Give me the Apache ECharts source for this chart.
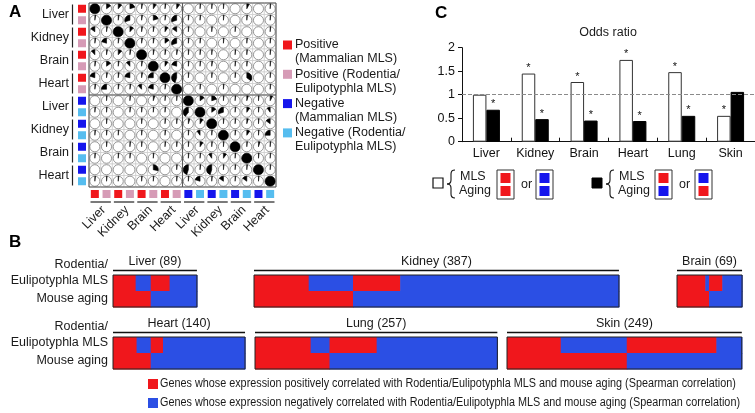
<!DOCTYPE html>
<html><head><meta charset="utf-8">
<script src="https://cdn.jsdelivr.net/npm/echarts@6/dist/echarts.min.js"></script>
<style>html,body{margin:0;padding:0;background:#fff}#c{width:755px;height:413px}</style>
</head><body><div id="c"></div>
<script>
// ---------- Panel A data ----------
const aTissues = ['Liver','Kidney','Brain','Heart','Liver','Kidney','Brain','Heart'];
const aRowTypes = ['PM','PR','PM','PR','PM','PR','PM','PR','NM','NR','NM','NR','NM','NR','NM','NR'];
const aMatrix = [
  [1, .15, .12, .2, .03, .1, .03, .1,   0, .02, .02, .02, 0, .08, 0, .02],
  [.03, 1, .03, -.3, .03, .2, .03, -.3,  .02, .02, 0, .02, 0, .02, 0, .02],
  [-.15, .03, 1, .12, .03, .03, .1, -.15,  .02, 0, .02, 0, .02, 0, 0, .02],
  [.03, -.2, .03, 1, .03, .03, .15, -.3,  .02, .02, 0, .02, 0, .02, 0, .02],
  [-.12, .03, .12, .03, 1, .03, .03, .03,  .02, .02, .02, 0, .02, .02, 0, .02],
  [.03, .15, .03, -.12, .03, 1, .1, -.2,  .02, .02, .03, 0, .02, .02, 0, .02],
  [-.2, .03, .03, -.22, .03, -.25, 1, -.45,  .02, 0, .02, 0, .02, .35, 0, .02],
  [.03, -.25, .03, .03, -.12, -.2, .03, 1,  0, .02, 0, .02, 0, 0, 0, .02],
  [0, .02, 0, .02, 0, .05, .02, .02,  1, .15, .2, .02, .02, .05, .02, .08],
  [.02, .02, 0, .02, .02, .02, .02, 0,  -.4, 1, .15, -.3, .02, .1, .02, -.1],
  [0, .02, 0, 0, .02, 0, .02, .02,  .05, .1, 1, .02, .02, .05, .02, -.15],
  [.02, .02, .02, 0, .02, 0, .02, 0,  .02, -.1, .02, 1, .02, .1, .02, -.25],
  [0, .02, 0, .02, .02, 0, .02, .02,  .02, .1, .02, .02, 1, .02, .05, .02],
  [.02, 0, .02, .02, 0, .02, 0, 0,  .02, .02, -.1, .1, .02, 1, .02, .02],
  [0, 0, 0, 0, 0, .28, 0, .02,  -.45, .02, -.45, .02, .02, .02, 1, .02],
  [.02, .02, .02, 0, .02, .02, 0, .02,  .02, -.2, .02, -.15, .02, -.15, .02, 1]
];
const aLegend = [
  ['PM', 'Positive\n(Mammalian MLS)'],
  ['PR', 'Positive (Rodentia/\nEulipotyphla MLS)'],
  ['NM', 'Negative\n(Mammalian MLS)'],
  ['NR', 'Negative (Rodentia/\nEulipotyphla MLS)']
];

// ---------- Panel B data ----------
const bTissues = ['Liver','Kidney','Brain','Heart','Lung','Skin'];
const bTotals  = [89, 387, 69, 140, 257, 249];
const bPosPos  = [24, 58, 30, 25, 59, 57];   // MLS +, aging +
const bNegPos  = [16, 47, 4, 15, 20, 70];    // MLS -, aging +
const bPosNeg  = [20, 50, 14, 13, 50, 95];   // MLS +, aging -
const bNegNeg  = [29, 232, 21, 87, 128, 27]; // MLS -, aging -
const bLegend = [
  'Genes whose expression positively correlated with Rodentia/Eulipotyphla MLS and mouse aging (Spearman correlation)',
  'Genes whose expression negatively correlated with Rodentia/Eulipotyphla MLS and mouse aging (Spearman correlation)'
];

// ---------- Panel C data ----------
const cCategories = ['Liver','Kidney','Brain','Heart','Lung','Skin'];
const cConcordant = [1.0, 1.45, 1.27, 1.74, 1.48, 0.55];
const cDiscordant = [0.68, 0.48, 0.45, 0.44, 0.55, 1.06];
const cConcordantSig = [false, true, true, true, true, true];
const cDiscordantSig = [true, true, true, true, true, false];

// ---------- styles / layout ----------
const FONT = 'Liberation Sans, Arial, sans-serif';
const RED = '#f0171c', BLUE = '#2b4fe4', PINK = '#d69bb6', LBLUE = '#56bdef', DBLUE = '#1515ec';
const typeColor = {PM: RED, PR: PINK, NM: DBLUE, NR: LBLUE};

const A = {left: 89, top: 3, width: 187, height: 184};
const cw = A.width / 16, ch = A.height / 16;

const C = {left: 462, top: 47.7, width: 293, height: 94};

const pxPerGene = 0.943;
const bLeft = [113, 254, 677, 113, 255, 507];
const bTop  = [275, 275, 275, 337, 337, 337];
const bH = 32;

// horizontally condense the long legend lines to the target width
const legendTargetW = 580, legendFont = 12.5;
const mctx = document.createElement('canvas').getContext('2d');
mctx.font = legendFont + 'px ' + FONT;
const legendScaleX = Math.min(1, legendTargetW / mctx.measureText(bLegend[1]).width);

function txt(x, y, s, o) {
  o = o || {};
  const al = o.align || 'left', va = o.va || 'middle';
  return {type: 'text', x: x, y: y, rotation: o.rot || 0, scaleX: o.sx || 1, silent: true, z: 100,
    style: {text: s, x: 0, y: 0, fill: o.color || '#1a1a1a', fontSize: o.size || 12.5,
      fontFamily: o.family || FONT, fontWeight: o.weight || 'normal',
      align: al, textAlign: al, verticalAlign: va, textVerticalAlign: va,
      lineHeight: o.lh || undefined}};
}
function rect(x, y, w, h, fill, stroke, lw) {
  return {type: 'rect', silent: true, z: 100, shape: {x: x, y: y, width: w, height: h},
    style: {fill: fill || 'none', stroke: stroke || null, lineWidth: lw || 0}};
}
function line(x1, y1, x2, y2, color, lw) {
  return {type: 'line', silent: true, z: 100, shape: {x1: x1, y1: y1, x2: x2, y2: y2},
    style: {stroke: color || '#000', lineWidth: lw || 1}};
}
function curve(x1, y1, cx, cy, x2, y2) {
  return {type: 'bezierCurve', silent: true, z: 100,
    shape: {x1: x1, y1: y1, cpx1: cx, cpy1: cy, x2: x2, y2: y2},
    style: {fill: 'none', stroke: '#111', lineWidth: 1.1}};
}
function brace(x, y) {
  return {type: 'group', x: x, y: y, silent: true, children: [
    curve(8, 0, 4, 0, 4, 4),
    line(4, 4, 4, 10, '#111', 1.1),
    curve(4, 10, 4, 14, 0, 14),
    curve(0, 14, 4, 14, 4, 18),
    line(4, 18, 4, 24, '#111', 1.1),
    curve(4, 24, 4, 28, 8, 28)
  ]};
}

const graphics = [];
// panel letters
graphics.push(txt(9, 12, 'A', {size: 17, weight: 'bold', color: '#000'}));
graphics.push(txt(9, 242, 'B', {size: 17, weight: 'bold', color: '#000'}));
graphics.push(txt(435, 13, 'C', {size: 17, weight: 'bold', color: '#000'}));

// Panel A: row labels, brackets, colour squares
aTissues.forEach(function (t, k) {
  const y0 = A.top + 2 * k * ch, y1 = y0 + 2 * ch;
  graphics.push(txt(69, (y0 + y1) / 2, t, {align: 'right'}));
  graphics.push(line(72.5, y0 + 1.5, 72.5, y1 - 1.5, '#222', 1.2));
  const x0 = A.left + 2 * k * cw, x1 = x0 + 2 * cw;
  graphics.push(line(x0 + 1.5, 202, x1 - 1.5, 202, '#222', 1.2));
  graphics.push(txt((x0 + x1) / 2 + 3, 208, t, {align: 'right', rot: Math.PI / 4}));
});
aRowTypes.forEach(function (tp, i) {
  const cy = A.top + (i + 0.5) * ch;
  graphics.push(rect(78, cy - 4, 8, 8, typeColor[tp]));
  const cx = A.left + (i + 0.5) * cw;
  graphics.push(rect(cx - 4, 190, 8, 8, typeColor[tp]));
});
// Panel A legend
aLegend.forEach(function (lg, k) {
  const y = 45 + k * 29.3;
  graphics.push(rect(283, y - 4.5, 9, 9, typeColor[lg[0]]));
  graphics.push(txt(295, y - 7, lg[1], {va: 'top', lh: 14}));
});

// Panel C title and legend
graphics.push(txt(608, 33, 'Odds ratio', {align: 'center'}));
graphics.push(rect(433, 178, 10, 10, '#fff', '#111', 1.2));
graphics.push(brace(447, 170));
graphics.push(txt(460, 177, 'MLS'));
graphics.push(txt(459, 191, 'Aging'));
function pairBox(x, c1, c2) {
  graphics.push(rect(x, 170, 17, 29, 'none', '#333', 1));
  graphics.push(rect(x + 3.5, 173, 10, 10, c1));
  graphics.push(rect(x + 3.5, 186, 10, 10, c2));
}
pairBox(497, RED, RED);
graphics.push(txt(521, 185, 'or'));
pairBox(536, DBLUE, DBLUE);
graphics.push(rect(592, 178, 10, 10, '#000', '#000', 1));
graphics.push(brace(606, 170));
graphics.push(txt(619, 177, 'MLS'));
graphics.push(txt(618, 191, 'Aging'));
pairBox(655, RED, DBLUE);
graphics.push(txt(679, 185, 'or'));
pairBox(695, DBLUE, RED);

// Panel B labels, headers, frames
[275, 337].forEach(function (top) {
  graphics.push(txt(108, top - 2, 'Rodentia/\nEulipotyphla MLS', {align: 'right', lh: 16}));
  graphics.push(txt(108, top + 24, 'Mouse aging', {align: 'right'}));
});
bTissues.forEach(function (t, k) {
  const w = bTotals[k] * pxPerGene;
  graphics.push(line(bLeft[k], bTop[k] - 4.5, bLeft[k] + w, bTop[k] - 4.5, '#111', 1.4));
  graphics.push(txt(bLeft[k] + w / 2, bTop[k] - 13, t + ' (' + bTotals[k] + ')', {align: 'center'}));
  graphics.push(rect(bLeft[k], bTop[k], w, bH, 'none', '#222', 1));
});
// Panel B legend
bLegend.forEach(function (s, k) {
  const y = 384 + k * 19;
  graphics.push(rect(148, y - 5, 10, 10, k === 0 ? RED : BLUE));
  graphics.push(txt(160, y, s, {size: legendFont, sx: legendScaleX}));
});

// ---------- series ----------
const grids = [], xAxes = [], yAxes = [], series = [];
// grid 0 : panel A
grids.push({left: A.left, top: A.top, width: A.width, height: A.height});
const idx16 = Array.from({length: 16}, function (_, i) { return String(i); });
xAxes.push({type: 'category', gridIndex: 0, data: idx16, show: false});
yAxes.push({type: 'category', gridIndex: 0, data: idx16, inverse: true, show: false});
const pieData = [];
aMatrix.forEach(function (row, r) { row.forEach(function (v, c) { pieData.push([c, r, v]); }); });
series.push({
  type: 'custom', xAxisIndex: 0, yAxisIndex: 0, silent: true, animation: false,
  data: pieData, encode: {x: 0, y: 1},
  renderItem: function (params, api) {
    const c = api.value(0), r = api.value(1), v = api.value(2);
    const p = api.coord([c, r]);
    const s = api.size([1, 1]);
    const w = s[0], h = s[1];
    const rad = Math.min(w, h) / 2 - 0.7;
    const ch_ = [
      {type: 'rect', shape: {x: p[0] - w / 2, y: p[1] - h / 2, width: w, height: h},
        style: {fill: '#fff', stroke: '#c6c6c6', lineWidth: 0.6}},
      {type: 'circle', shape: {cx: p[0], cy: p[1], r: rad},
        style: {fill: '#fff', stroke: '#7c7c7c', lineWidth: 0.8}}
    ];
    if (Math.abs(v) >= 0.999) {
      ch_.push({type: 'circle', shape: {cx: p[0], cy: p[1], r: rad}, style: {fill: '#000', stroke: '#000', lineWidth: 0.5}});
    } else if (v !== 0) {
      const a0 = -Math.PI / 2;
      const a1 = a0 + (v > 0 ? 1 : -1) * 2 * Math.PI * Math.abs(v);
      ch_.push({type: 'sector', shape: {cx: p[0], cy: p[1], r0: 0, r: rad, startAngle: a0, endAngle: a1, clockwise: v > 0},
        style: {fill: '#000', stroke: '#000', lineWidth: 0.6}});
    }
    const L = p[0] - w / 2, R = p[0] + w / 2, T = p[1] - h / 2, B = p[1] + h / 2;
    const dc = '#5a5a5a';
    if (c === 0 || c === 8) ch_.push({type: 'line', z2: 10, shape: {x1: L, y1: T, x2: L, y2: B}, style: {stroke: dc, lineWidth: 1.1}});
    if (c === 15) ch_.push({type: 'line', z2: 10, shape: {x1: R, y1: T, x2: R, y2: B}, style: {stroke: dc, lineWidth: 1.1}});
    if (r === 0 || r === 8) ch_.push({type: 'line', z2: 10, shape: {x1: L, y1: T, x2: R, y2: T}, style: {stroke: dc, lineWidth: 1.1}});
    if (r === 15) ch_.push({type: 'line', z2: 10, shape: {x1: L, y1: B, x2: R, y2: B}, style: {stroke: dc, lineWidth: 1.1}});
    return {type: 'group', children: ch_};
  }
});

// grid 1 : panel C
grids.push({left: C.left, top: C.top, width: C.width, height: C.height});
xAxes.push({type: 'category', gridIndex: 1, data: cCategories,
  axisLine: {lineStyle: {color: '#111', width: 1}},
  axisTick: {show: true, inside: true, length: 4, alignWithLabel: false, interval: 0, lineStyle: {color: '#111'}},
  axisLabel: {color: '#111', fontSize: 12.5, fontFamily: FONT, margin: 5, interval: 0}});
yAxes.push({type: 'value', gridIndex: 1, min: 0, max: 2, interval: 0.5,
  axisLine: {show: true, lineStyle: {color: '#111', width: 1}},
  axisTick: {show: true, length: 4, lineStyle: {color: '#111'}},
  splitLine: {show: false},
  axisLabel: {color: '#111', fontSize: 12.5, fontFamily: FONT, margin: 7}});
series.push({
  type: 'bar', xAxisIndex: 1, yAxisIndex: 1, data: cConcordant, barWidth: 13.5, barGap: '0%',
  silent: true, animation: false,
  itemStyle: {color: '#fff', borderColor: '#333', borderWidth: 1},
  label: {show: true, position: 'top', distance: 0, fontSize: 11, color: '#111', fontFamily: FONT,
    formatter: function (p) { return cConcordantSig[p.dataIndex] ? '*' : ''; }},
  markLine: {silent: true, symbol: 'none', label: {show: false},
    lineStyle: {type: 'dashed', color: '#8a8a8a', width: 1}, data: [{yAxis: 1}]}
});
series.push({
  type: 'bar', xAxisIndex: 1, yAxisIndex: 1, data: cDiscordant, barWidth: 13.5, barGap: '0%',
  silent: true, animation: false,
  itemStyle: {color: '#000', borderColor: '#000', borderWidth: 1},
  label: {show: true, position: 'top', distance: 0, fontSize: 11, color: '#111', fontFamily: FONT,
    formatter: function (p) { return cDiscordantSig[p.dataIndex] ? '*' : ''; }}
});

// grids 2..7 : panel B (segments built from the count arrays)
bTissues.forEach(function (t, k) {
  const gi = k + 2;
  grids.push({left: bLeft[k], top: bTop[k], width: bTotals[k] * pxPerGene, height: bH});
  xAxes.push({type: 'value', gridIndex: gi, min: 0, max: bTotals[k], show: false});
  yAxes.push({type: 'category', gridIndex: gi, data: ['MLS', 'Aging'], inverse: true, show: false});
  const pp = bPosPos[k], np = bNegPos[k], pn = bPosNeg[k], nn = bNegNeg[k];
  // [start, end, row, colour 0=red 1=blue]
  const segs = [
    [0, pp, 0, 0], [pp, pp + np, 0, 1], [pp + np, pp + np + pn, 0, 0], [pp + np + pn, pp + np + pn + nn, 0, 1],
    [0, pp + np, 1, 0], [pp + np, pp + np + pn + nn, 1, 1]
  ];
  series.push({
    type: 'custom', xAxisIndex: gi, yAxisIndex: gi, silent: true, animation: false,
    data: segs, encode: {x: [0, 1], y: 2},
    renderItem: function (params, api) {
      const a = api.coord([api.value(0), api.value(2)]);
      const b = api.coord([api.value(1), api.value(2)]);
      const h = api.size([0, 1])[1];
      return {type: 'rect',
        shape: {x: a[0], y: a[1] - h / 2, width: b[0] - a[0] + 0.6, height: h + 0.6},
        style: {fill: api.value(3) === 0 ? RED : BLUE}};
    }
  });
});

const chart = echarts.init(document.getElementById('c'), null, {renderer: 'canvas'});
chart.setOption({
  animation: false,
  backgroundColor: '#fff',
  textStyle: {fontFamily: FONT},
  grid: grids, xAxis: xAxes, yAxis: yAxes, series: series,
  graphic: {elements: graphics}
});
</script></body></html>
